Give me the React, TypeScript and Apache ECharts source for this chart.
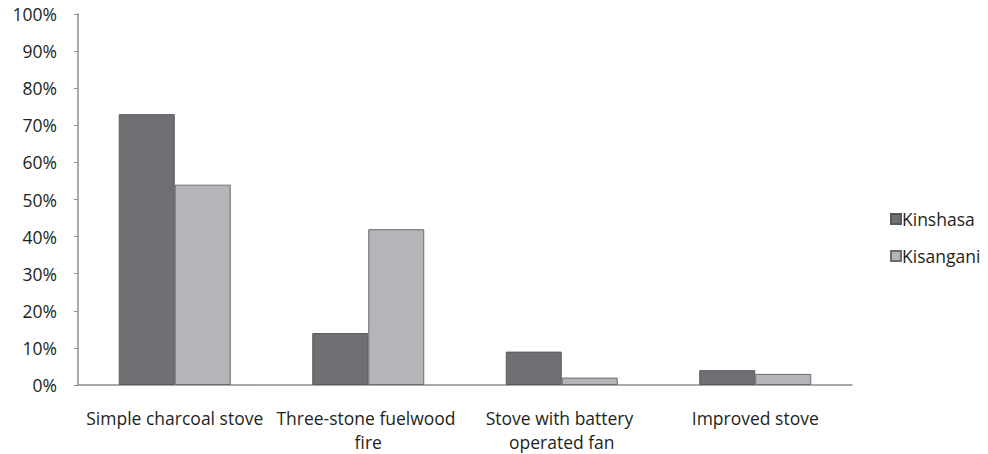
import React, { useEffect, useRef } from "react";
import * as echarts from "echarts";

const categories = [
  "Simple charcoal stove",
  "Three-stone fuelwood fire",
  "Stove with battery operated fan",
  "Improved stove",
];
const kinshasa = [73, 14, 9, 4];
const kisangani = [54, 42, 2, 3];
const yTicks = [0, 10, 20, 30, 40, 50, 60, 70, 80, 90, 100];

const FONT = "'Open Sans', 'Noto Sans', sans-serif";
const TEXT = "#231f20";
const AXIS = "#8e8f91";

export default function App() {
  const ref = useRef<HTMLDivElement>(null);
  useEffect(() => {
    if (!ref.current) return;
    const chart = echarts.init(ref.current, undefined, { renderer: "svg" });
    chart.setOption({
      animation: false,
      textStyle: { fontFamily: FONT },
      grid: {
        left: 78,
        right: 136,
        top: 14,
        bottom: 69,
        containLabel: false,
        outerBoundsMode: "none",
      },
      legend: {
        orient: "vertical",
        left: 885,
        top: 204,
        itemWidth: 10,
        itemHeight: 10,
        itemGap: 17,
        icon: "rect",
        textStyle: { fontFamily: FONT, fontSize: 17.5, color: TEXT, padding: [0, 0, 0, -4], lineHeight: 20 },
        data: ["Kinshasa", "Kisangani"],
      },
      xAxis: {
        type: "category",
        data: categories,
        axisLine: { lineStyle: { color: AXIS, width: 1.5 } },
        axisTick: { show: false },
        axisLabel: {
          interval: 0,
          color: TEXT,
          fontSize: 17.5,
          fontFamily: FONT,
          margin: 21,
          lineHeight: 24,
          width: 192,
          overflow: "break",
        },
      },
      yAxis: {
        type: "value",
        min: 0,
        max: 100,
        interval: 10,
        splitLine: { show: false },
        axisLine: { show: true, lineStyle: { color: AXIS, width: 1.5 } },
        axisTick: { show: true, inside: false, length: 4, lineStyle: { color: AXIS } },
        axisLabel: {
          color: TEXT,
          fontSize: 17.5,
          fontFamily: FONT,
          margin: 21,
          formatter: (v: number) => (yTicks.includes(v) ? v + "%" : ""),
        },
      },
      series: [
        {
          name: "Kinshasa",
          type: "bar",
          data: kinshasa,
          barWidth: 56,
          barGap: "0%",
          itemStyle: { color: "#6f7074", borderColor: "#58595c", borderWidth: 1 },
        },
        {
          name: "Kisangani",
          type: "bar",
          data: kisangani,
          barWidth: 56,
          barGap: "0%",
          itemStyle: { color: "#b3b5b8", borderColor: "#6b6c6f", borderWidth: 1 },
        },
      ],
    });
    return () => chart.dispose();
  }, []);
  return <div ref={ref} style={{ width: 988, height: 454, position: "absolute", left: 0, top: 0 }} />;
}
